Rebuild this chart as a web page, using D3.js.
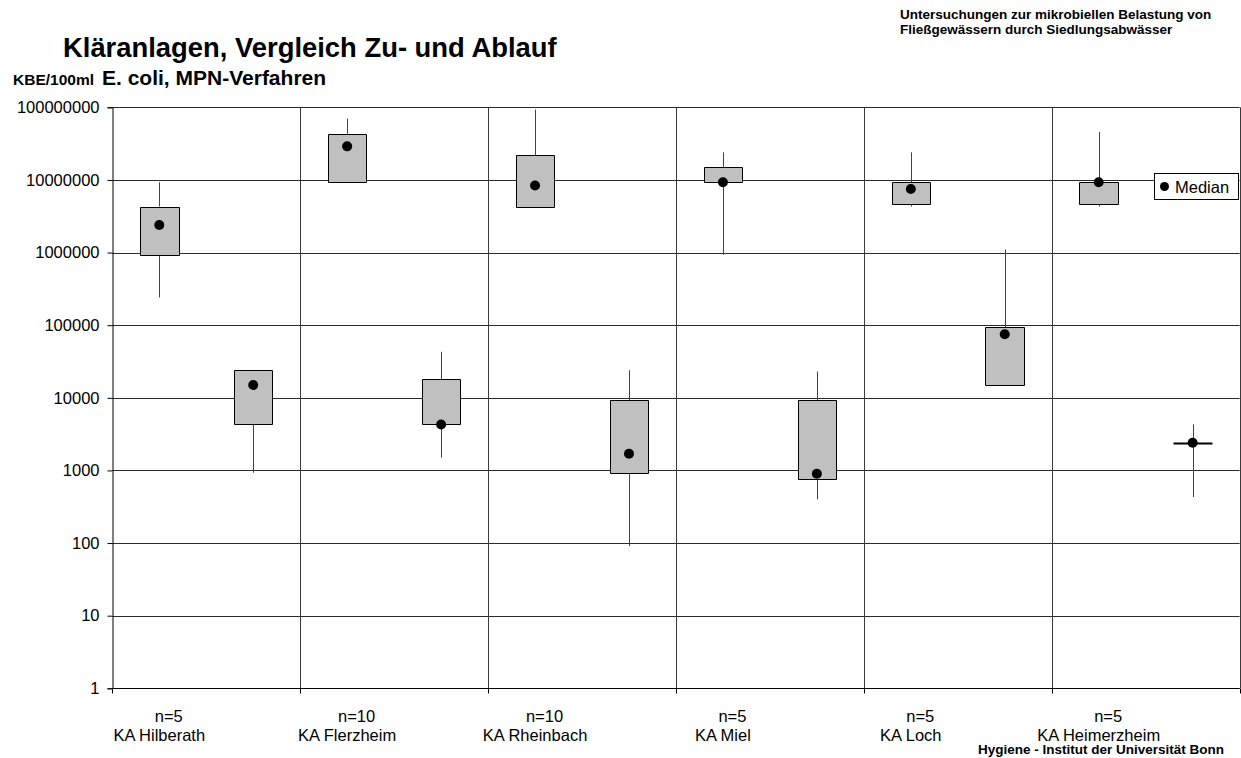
<!DOCTYPE html>
<html>
<head>
<meta charset="utf-8">
<script src="https://cdn.jsdelivr.net/npm/d3@7/dist/d3.min.js"></script>
<style>
  html, body { margin: 0; padding: 0; background: #fff; }
  svg { display: block; font-family: "Liberation Sans", Arial, sans-serif; }
</style>
</head>
<body>
<svg id="chart" width="1241" height="758"></svg>
<script>
// Sewage plants and sample counts
const plants = ["KA Hilberath", "KA Flerzheim", "KA Rheinbach", "KA Miel", "KA Loch", "KA Heimerzheim"];
const sampleCounts = ["n=5", "n=10", "n=10", "n=5", "n=5", "n=5"];

// Inflow (Zulauf), KBE/100ml
const inflowMax    = [9.3e6, 7.0e7, 9.3e7, 2.4e7, 2.4e7, 4.6e7];
const inflowQ3     = [4.3e6, 4.3e7, 2.2e7, 1.5e7, 9.3e6, 9.3e6];
const inflowMedian = [2.4e6, 2.9e7, 8.4e6, 9.3e6, 7.5e6, 9.3e6];
const inflowQ1     = [9.3e5, 9.3e6, 4.3e6, 9.3e6, 4.6e6, 4.6e6];
const inflowMin    = [2.4e5, 9.3e6, 4.3e6, 9.3e5, 4.3e6, 4.3e6];

// Outflow (Ablauf), KBE/100ml
const outflowMax    = [2.4e4, 4.3e4, 2.4e4, 2.3e4, 1.1e6, 4.3e3];
const outflowQ3     = [2.4e4, 1.8e4, 9.3e3, 9.3e3, 9.3e4, 2.4e3];
const outflowMedian = [1.5e4, 4.3e3, 1.7e3, 9.0e2, 7.5e4, 2.4e3];
const outflowQ1     = [4.3e3, 4.3e3, 9.3e2, 7.5e2, 1.5e4, 2.4e3];
const outflowMin    = [9.3e2, 1.5e3, 9.1e1, 4.0e2, 1.5e4, 4.3e2];

// Y axis tick values
const yTicks = [1, 10, 100, 1000, 10000, 100000, 1000000, 10000000, 100000000];

// Build one record per box (inflow, outflow alternating)
const boxes = [];
plants.forEach((p, i) => {
  boxes.push({ key: p + "|in", plant: p, min: inflowMin[i], q1: inflowQ1[i], median: inflowMedian[i], q3: inflowQ3[i], max: inflowMax[i] });
  boxes.push({ key: p + "|out", plant: p, min: outflowMin[i], q1: outflowQ1[i], median: outflowMedian[i], q3: outflowQ3[i], max: outflowMax[i] });
});

const svg = d3.select("#chart");
const plotLeft = 112.3, plotRight = 1239.6, plotTop = 107.3, plotBottom = 688.3;

const y = d3.scaleLog().domain([1, 1e8]).range([plotBottom, plotTop]);
const xPlant = d3.scaleBand().domain(plants).range([plotLeft, plotRight]).padding(0);
const xBox = d3.scaleBand().domain(boxes.map(d => d.key)).range([plotLeft, plotRight]).padding(0);
const boxW = xBox.bandwidth() * 0.41;

const crisp = v => Math.round(v) + 0.5;

// Horizontal gridlines
svg.append("g")
  .selectAll("line")
  .data(yTicks)
  .join("line")
  .attr("x1", plotLeft).attr("x2", plotRight)
  .attr("y1", d => crisp(y(d))).attr("y2", d => crisp(y(d)))
  .attr("stroke", "#2a2a2a").attr("stroke-width", 1);

// Vertical gridlines at plant boundaries
const bounds = plants.map(p => xPlant(p)).concat([plotRight]);
svg.append("g")
  .selectAll("line")
  .data(bounds.slice(1))
  .join("line")
  .attr("x1", d => crisp(d)).attr("x2", d => crisp(d))
  .attr("y1", plotTop).attr("y2", plotBottom)
  .attr("stroke", "#3a3a3a").attr("stroke-width", 1);

// Y axis
const yAxis = d3.axisLeft(y).tickValues(yTicks).tickFormat(d3.format("d")).tickSize(5).tickPadding(8);
const gy = svg.append("g").attr("transform", `translate(${crisp(plotLeft)},0)`).call(yAxis);
gy.select(".domain").attr("stroke", "#000");
gy.selectAll(".tick line").attr("stroke", "#000");
gy.selectAll(".tick text")
  .attr("font-size", "16.5px").attr("fill", "#000")
  .attr("font-family", "'Liberation Sans', Arial, sans-serif");

// X axis: baseline with ticks at plant boundaries
svg.append("line")
  .attr("x1", plotLeft).attr("x2", plotRight)
  .attr("y1", crisp(plotBottom)).attr("y2", crisp(plotBottom))
  .attr("stroke", "#000");
svg.append("g")
  .selectAll("line")
  .data(bounds)
  .join("line")
  .attr("x1", d => crisp(d)).attr("x2", d => crisp(d))
  .attr("y1", crisp(plotBottom)).attr("y2", crisp(plotBottom) + 5)
  .attr("stroke", "#000");

// Category labels under the inflow slot of each plant
const labels = svg.append("g")
  .attr("font-size", "16.5px").attr("text-anchor", "middle").attr("fill", "#000");
plants.forEach((p, i) => {
  const cx = xBox(p + "|in") + xBox.bandwidth() / 2;
  labels.append("text").attr("x", cx + 9.5).attr("y", 722).text(sampleCounts[i]);
  labels.append("text").attr("x", cx).attr("y", 741).text(p);
});

// Boxes
const g = svg.append("g");
const items = g.selectAll("g.box").data(boxes).join("g").attr("class", "box");
items.each(function (d) {
  const sel = d3.select(this);
  const cx = xBox(d.key) + xBox.bandwidth() / 2;
  const x0 = cx - boxW / 2, x1 = cx + boxW / 2;
  // whiskers
  if (d.max > d.q3) {
    sel.append("line")
      .attr("x1", crisp(cx)).attr("x2", crisp(cx))
      .attr("y1", y(d.max)).attr("y2", y(d.q3))
      .attr("stroke", "#444");
  }
  if (d.min < d.q1) {
    sel.append("line")
      .attr("x1", crisp(cx)).attr("x2", crisp(cx))
      .attr("y1", y(d.q1)).attr("y2", y(d.min))
      .attr("stroke", "#444");
  }
  // box (path so that a zero-height box still shows as a bar)
  const yt = Math.round(y(d.q3)) + 0.5, yb = Math.round(y(d.q1)) + 0.5;
  const flat = d.q3 === d.q1;
  sel.append("path")
    .attr("d", `M${Math.round(x0) + 0.5},${yt}H${Math.round(x1) + 0.5}V${yb}H${Math.round(x0) + 0.5}Z`)
    .attr("fill", "#c0c0c0")
    .attr("stroke", "#000")
    .attr("stroke-width", flat ? 2 : 1);
  // median
  sel.append("circle")
    .attr("cx", cx).attr("cy", y(d.median)).attr("r", 5)
    .attr("fill", "#000");
});

// Legend
const lg = svg.append("g");
lg.append("rect")
  .attr("x", 1154.5).attr("y", 173.5).attr("width", 84).attr("height", 26)
  .attr("fill", "#fff").attr("stroke", "#000");
lg.append("circle").attr("cx", 1164.5).attr("cy", 186.5).attr("r", 4.5).attr("fill", "#000");
lg.append("text").attr("x", 1175).attr("y", 192.5)
  .attr("font-size", "16.5px").attr("fill", "#000").text("Median");

// Titles
svg.append("text").attr("x", 63).attr("y", 57)
  .attr("font-size", "27.4px").attr("font-weight", "bold").attr("fill", "#000")
  .text("Kläranlagen, Vergleich Zu- und Ablauf");
svg.append("text").attr("x", 13).attr("y", 85)
  .attr("font-size", "15.5px").attr("font-weight", "bold").attr("fill", "#000")
  .text("KBE/100ml");
svg.append("text").attr("x", 102).attr("y", 85)
  .attr("font-size", "21px").attr("font-weight", "bold").attr("fill", "#000")
  .text("E. coli, MPN-Verfahren");

// Header and footer notes
const note = svg.append("g").attr("font-size", "13.5px").attr("font-weight", "bold").attr("fill", "#000");
note.append("text").attr("x", 900).attr("y", 19).text("Untersuchungen zur mikrobiellen Belastung von");
note.append("text").attr("x", 900).attr("y", 34).text("Fließgewässern durch Siedlungsabwässer");
note.append("text").attr("x", 978).attr("y", 754).text("Hygiene - Institut der Universität Bonn");
</script>
</body>
</html>
